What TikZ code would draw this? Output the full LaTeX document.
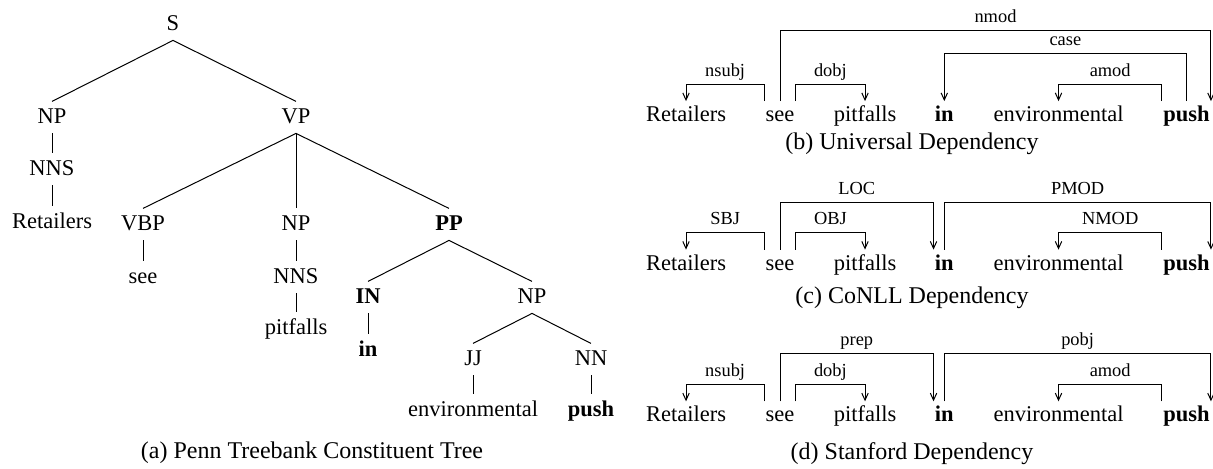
\documentclass[tikz,border=0pt]{standalone}
\usepackage{fontspec}
\setmainfont{Liberation Serif}
\usetikzlibrary{arrows.meta}

\tikzset{
    tn/.style={anchor=base, font=\fontsize{11.25}{13}\selectfont, text height=7.6pt, text depth=2pt, inner xsep=1pt, inner ysep=3pt},
    wd/.style={anchor=base, font=\fontsize{11.25}{13}\selectfont, text height=7.6pt, text depth=0pt, inner xsep=0.5pt, inner ysep=2.4pt},
    br/.style={line width=0.5pt},
    dep/.style={line width=0.5pt, -{Straight Barb[length=3.5pt,width=3.2pt]}},
    lab/.style={pos=0.25, anchor=base, yshift=4pt, inner sep=0pt, font=\fontsize{9.2}{11}\selectfont},
    subcap/.style={anchor=base, font=\fontsize{12}{14}\selectfont}
}

\begin{document}
\begin{tikzpicture}[x=0.5pt, y=-0.5pt]

    \useasboundingbox (0,0) rectangle (1213,468);

    % (a) constituent tree
    \node[tn] (S) at (173,30) {S};
    \node[tn] (NP1) at (52,123) {NP};
    \node[tn] (VP) at (296,123) {VP};
    \node[tn] (NNS1) at (52,175) {NNS};
    \node[tn] (Ret) at (52,228) {Retailers};
    \node[tn] (VBP) at (143,230) {VBP};
    \node[tn] (NP2) at (296,230) {NP};
    \node[tn] (PP) at (449,230) {\textbf{PP}};
    \node[tn] (See) at (143,283) {see};
    \node[tn] (NNS2) at (296,283) {NNS};
    \node[tn] (Pit) at (296,334) {pitfalls};
    \node[tn] (IN) at (368,303) {\textbf{IN}};
    \node[tn] (NP3) at (532,303) {NP};
    \node[tn] (In) at (368,356) {\textbf{in}};
    \node[tn] (JJ) at (473,365) {JJ};
    \node[tn] (NN) at (591,365) {NN};
    \node[tn] (Env) at (473,416) {environmental};
    \node[tn] (Push) at (591,416) {\textbf{push}};

    \draw[br] (S.south) -- (NP1.north);
    \draw[br] (S.south) -- (VP.north);
    \draw[br] (NP1.south) -- (NNS1.north);
    \draw[br] (NNS1.south) -- (Ret.north);
    \draw[br] (VP.south) -- (VBP.north);
    \draw[br] (VP.south) -- (NP2.north);
    \draw[br] (VP.south) -- (PP.north);
    \draw[br] (VBP.south) -- (See.north);
    \draw[br] (NP2.south) -- (NNS2.north);
    \draw[br] (NNS2.south) -- (Pit.north);
    \draw[br] (PP.south) -- (IN.north);
    \draw[br] (PP.south) -- (NP3.north);
    \draw[br] (IN.south) -- (In.north);
    \draw[br] (NP3.south) -- (JJ.north);
    \draw[br] (NP3.south) -- (NN.north);
    \draw[br] (JJ.south) -- (Env.north);
    \draw[br] (NN.south) -- (Push.north);

    \node[subcap] (capa) at (312,458) {(a) Penn Treebank Constituent Tree};

    % (b) universal dependency
    \node[wd] (ret-b) at (686,121.5) {Retailers};
    \node[wd] (see-b) at (780,121.5) {see};
    \node[wd] (pit-b) at (865,121.5) {pitfalls};
    \node[wd] (in-b) at (944.3,121.5) {\textbf{in}};
    \node[wd] (env-b) at (1058.5,121.5) {environmental};
    \node[wd] (push-b) at (1186.4,121.5) {\textbf{push}};

    \draw[dep] (see-b.north west) -- ++(0,-17) -| node[lab] {nsubj} (ret-b.north);
    \draw[dep] (see-b.north east) -- ++(0,-17) -| node[lab] {dobj} (pit-b.north);
    \draw[dep] (see-b.north) -- ++(0,-70.8) -| node[lab] {nmod} (push-b.north east);
    \draw[dep] (push-b.north) -- ++(0,-47.5) -| node[lab] {case} (in-b.north);
    \draw[dep] (push-b.north west) -- ++(0,-17) -| node[lab] {amod} (env-b.north);

    \node[subcap] (capb) at (912,149) {(b) Universal Dependency};

    % (c) CoNLL dependency
    \node[wd] (ret-c) at (686,270) {Retailers};
    \node[wd] (see-c) at (780,270) {see};
    \node[wd] (pit-c) at (865,270) {pitfalls};
    \node[wd] (in-c) at (944.3,270) {\textbf{in}};
    \node[wd] (env-c) at (1058.5,270) {environmental};
    \node[wd] (push-c) at (1186.4,270) {\textbf{push}};

    \draw[dep] (see-c.north west) -- ++(0,-17) -| node[lab] {SBJ} (ret-c.north);
    \draw[dep] (see-c.north east) -- ++(0,-17) -| node[lab] {OBJ} (pit-c.north);
    \draw[dep] (see-c.north) -- ++(0,-47.5) -| node[lab] {LOC} (in-c.north west);
    \draw[dep] (in-c.north) -- ++(0,-47.5) -| node[lab] {PMOD} (push-c.north east);
    \draw[dep] (push-c.north west) -- ++(0,-17) -| node[lab] {NMOD} (env-c.north);

    \node[subcap] (capc) at (912,303) {(c) CoNLL Dependency};

    % (d) stanford dependency
    \node[wd] (ret-d) at (686,421.7) {Retailers};
    \node[wd] (see-d) at (780,421.7) {see};
    \node[wd] (pit-d) at (865,421.7) {pitfalls};
    \node[wd] (in-d) at (944.3,421.7) {\textbf{in}};
    \node[wd] (env-d) at (1058.5,421.7) {environmental};
    \node[wd] (push-d) at (1186.4,421.7) {\textbf{push}};

    \draw[dep] (see-d.north west) -- ++(0,-17) -| node[lab] {nsubj} (ret-d.north);
    \draw[dep] (see-d.north east) -- ++(0,-17) -| node[lab] {dobj} (pit-d.north);
    \draw[dep] (see-d.north) -- ++(0,-47.5) -| node[lab] {prep} (in-d.north west);
    \draw[dep] (in-d.north) -- ++(0,-47.5) -| node[lab] {pobj} (push-d.north east);
    \draw[dep] (push-d.north west) -- ++(0,-17) -| node[lab] {amod} (env-d.north);

    \node[subcap] (capd) at (912,459) {(d) Stanford Dependency};

\end{tikzpicture}
\end{document}
